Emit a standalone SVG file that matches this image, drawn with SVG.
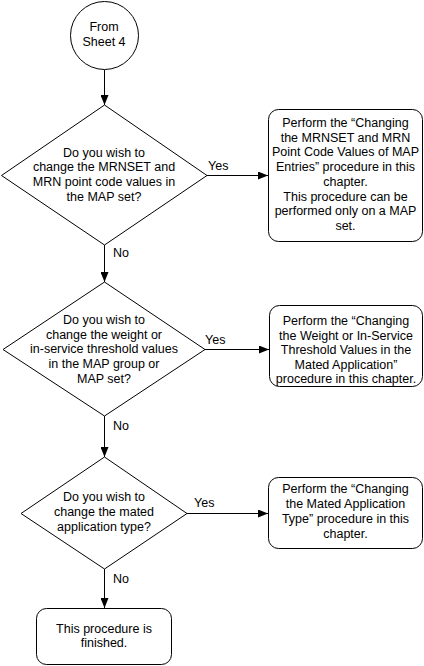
<svg xmlns="http://www.w3.org/2000/svg" width="424" height="666" viewBox="0 0 424 666">
<style>
.s{fill:#fff;stroke:#000;stroke-width:1}
.t{font-family:"Liberation Sans",Arial,sans-serif;font-size:12.5px;fill:#000;text-anchor:middle}
.l{font-family:"Liberation Sans",Arial,sans-serif;font-size:12.5px;fill:#000}
.c{fill:none;stroke:#000;stroke-width:1}
</style>
<defs>
<marker id="ah" markerWidth="10" markerHeight="8" refX="10" refY="4" orient="auto" markerUnits="userSpaceOnUse">
<path d="M0,0 L10,4 L0,8 Z" fill="#000"/>
</marker>
</defs>
<rect width="424" height="666" fill="#fff"/>
<g id="connectors">
<line class="c" x1="104.5" y1="70" x2="104.5" y2="105" marker-end="url(#ah)"/>
<line class="c" x1="104.5" y1="245" x2="104.5" y2="282" marker-end="url(#ah)"/>
<line class="c" x1="104.5" y1="416" x2="104.5" y2="457" marker-end="url(#ah)"/>
<line class="c" x1="104.5" y1="569" x2="104.5" y2="608" marker-end="url(#ah)"/>
<line class="c" x1="207" y1="175.5" x2="268" y2="175.5" marker-end="url(#ah)"/>
<line class="c" x1="205" y1="349.5" x2="269" y2="349.5" marker-end="url(#ah)"/>
<line class="c" x1="187" y1="513.5" x2="268" y2="513.5" marker-end="url(#ah)"/>
<text class="l" x="208" y="170">Yes</text>
<text class="l" x="113" y="257">No</text>
<text class="l" x="205" y="344">Yes</text>
<text class="l" x="113" y="430">No</text>
<text class="l" x="194" y="507">Yes</text>
<text class="l" x="113" y="583">No</text>
</g>
<g id="start">
<circle class="s" cx="104.5" cy="35.5" r="34"/>
<text class="t" x="104" y="31">From</text>
<text class="t" x="104" y="45.5">Sheet 4</text>
</g>
<g id="decision1">
<polygon class="s" points="104.5,105 207,175.5 104.5,245 1.5,175.5"/>
<text class="t" x="104" y="156.7">Do you wish to</text>
<text class="t" x="104" y="171.4">change the MRNSET and</text>
<text class="t" x="104" y="186.1">MRN point code values in</text>
<text class="t" x="104" y="200.8">the MAP set?</text>
</g>
<g id="action1">
<rect class="s" x="268.5" y="109.5" width="154" height="132" rx="10" ry="10"/>
<text class="t" x="345.5" y="127">Perform the “Changing</text>
<text class="t" x="345.5" y="141.7">the MRNSET and MRN</text>
<text class="t" x="345.5" y="156.4">Point Code Values of MAP</text>
<text class="t" x="345.5" y="171.1">Entries” procedure in this</text>
<text class="t" x="345.5" y="185.8">chapter.</text>
<text class="t" x="345.5" y="200.5">This procedure can be</text>
<text class="t" x="345.5" y="215.2">performed only on a MAP</text>
<text class="t" x="345.5" y="229.9">set.</text>
</g>
<g id="decision2">
<polygon class="s" points="104.5,282 205,349.5 104.5,416 3,349.5"/>
<text class="t" x="104" y="324">Do you wish to</text>
<text class="t" x="104" y="338.7">change the weight or</text>
<text class="t" x="104" y="353.4">in-service threshold values</text>
<text class="t" x="104" y="368.1">in the MAP group or</text>
<text class="t" x="104" y="382.8">MAP set?</text>
</g>
<g id="action2">
<rect class="s" x="269.5" y="305.5" width="153" height="81" rx="10" ry="10"/>
<text class="t" x="346" y="325">Perform the “Changing</text>
<text class="t" x="346" y="339.5">the Weight or In-Service</text>
<text class="t" x="346" y="354">Threshold Values in the</text>
<text class="t" x="346" y="368.5">Mated Application”</text>
<text class="t" x="346" y="383">procedure in this chapter.</text>
</g>
<g id="decision3">
<polygon class="s" points="104.5,457 187,513.5 104.5,569 21,513.5"/>
<text class="t" x="104" y="501">Do you wish to</text>
<text class="t" x="104" y="516">change the mated</text>
<text class="t" x="104" y="531">application type?</text>
</g>
<g id="action3">
<rect class="s" x="268.5" y="477.5" width="154" height="71" rx="10" ry="10"/>
<text class="t" x="345.5" y="492.5">Perform the “Changing</text>
<text class="t" x="345.5" y="507.5">the Mated Application</text>
<text class="t" x="345.5" y="522.5">Type” procedure in this</text>
<text class="t" x="345.5" y="537.5">chapter.</text>
</g>
<g id="end">
<rect class="s" x="36.5" y="608.5" width="135" height="56" rx="10" ry="10"/>
<text class="t" x="104" y="633">This procedure is</text>
<text class="t" x="104" y="647">finished.</text>
</g>
</svg>
